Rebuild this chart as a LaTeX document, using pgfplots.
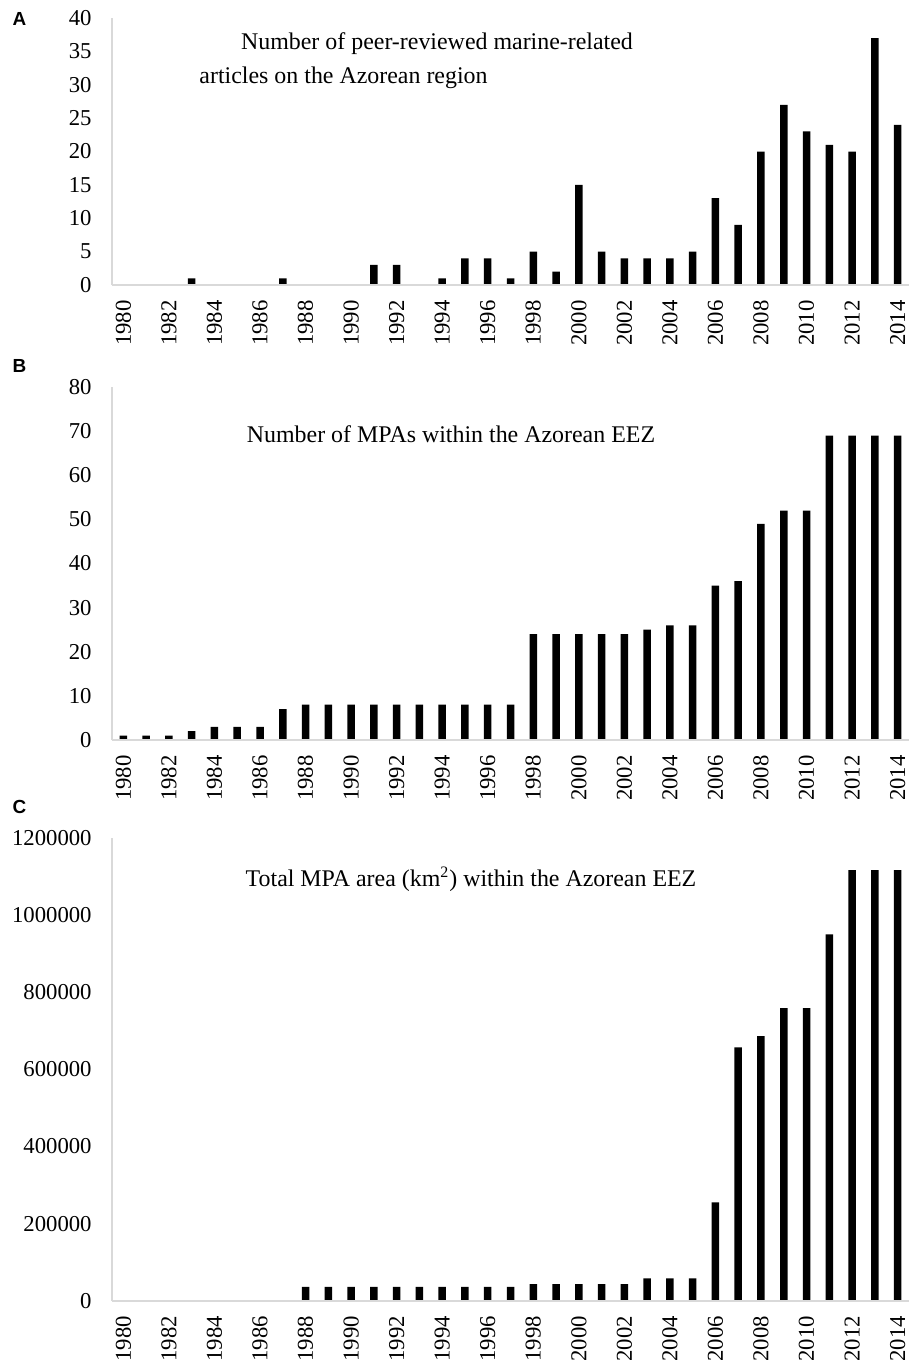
\documentclass[border=0pt]{standalone}
\usepackage{fontspec}
\setmainfont{Liberation Serif}
\newfontfamily\arialfont{Liberation Sans}
\usepackage{pgfplots}
\pgfplotsset{compat=1.18}
\definecolor{axgrey}{HTML}{D9D9D9}
\pgfplotsset{
  panel/.style={
    scale only axis, width=398.5bp,
    xmin=1979.5, xmax=2014.5, ymin=0,
    axis x line*=bottom, axis y line*=left,
    axis line style={draw=axgrey, line width=0.8bp, -},
    axis on top,
    xtick={1980,1982,...,2014},
    major tick length=0pt,
    /pgf/number format/fixed,
    /pgf/number format/precision=0,
    /pgf/number format/1000 sep={},
    /pgf/number format/assume math mode=true,
    scaled y ticks=false,
    scaled x ticks=false,
    tick label style={font=\fontsize{11.4}{13}\selectfont, inner sep=0pt},
    xticklabel style={rotate=90, anchor=east},
    xticklabel shift=7.5bp,
    yticklabel shift=10bp,
    ybar, bar width=3.75bp,
    clip=false,
  }
}
\begin{document}
\begin{tikzpicture}
\path[use as bounding box] (0,0) rectangle (456bp,-682.5bp);
% Panel A
\begin{axis}[panel, height=133.5bp, at={(56bp,-142.5bp)}, anchor=south west,
  ymax=40, ytick={0,5,...,40}]
\addplot[fill=black, draw=none] coordinates {
(1980,0) (1981,0) (1982,0) (1983,1) (1984,0) (1985,0) (1986,0) (1987,1)
(1988,0) (1989,0) (1990,0) (1991,3) (1992,3) (1993,0) (1994,1) (1995,4)
(1996,4) (1997,1) (1998,5) (1999,2) (2000,15) (2001,5) (2002,4) (2003,4)
(2004,4) (2005,5) (2006,13) (2007,9) (2008,20) (2009,27) (2010,23) (2011,21)
(2012,20) (2013,37) (2014,24)};
\end{axis}
% Panel B
\begin{axis}[panel, height=176.5bp, at={(56bp,-370bp)}, anchor=south west,
  ymax=80, ytick={0,10,...,80}]
\addplot[fill=black, draw=none] coordinates {
(1980,1) (1981,1) (1982,1) (1983,2) (1984,3) (1985,3) (1986,3) (1987,7)
(1988,8) (1989,8) (1990,8) (1991,8) (1992,8) (1993,8) (1994,8) (1995,8)
(1996,8) (1997,8) (1998,24) (1999,24) (2000,24) (2001,24) (2002,24) (2003,25)
(2004,26) (2005,26) (2006,35) (2007,36) (2008,49) (2009,52) (2010,52) (2011,69)
(2012,69) (2013,69) (2014,69)};
\end{axis}
% Panel C
\begin{axis}[panel, height=231.35bp, at={(56bp,-650.35bp)}, anchor=south west,
  ymax=1200000, ytick={0,200000,400000,600000,800000,1000000,1200000}]
\addplot[fill=black, draw=none] coordinates {
(1980,0) (1981,0) (1982,0) (1983,0) (1984,0) (1985,0) (1986,0) (1987,0)
(1988,36000) (1989,36000) (1990,36000) (1991,36000) (1992,36000) (1993,36000) (1994,36000) (1995,36000)
(1996,36000) (1997,36000) (1998,43000) (1999,43000) (2000,43000) (2001,43000) (2002,43000) (2003,58000)
(2004,58000) (2005,58000) (2006,255000) (2007,657000) (2008,686000) (2009,759000) (2010,759000) (2011,950000)
(2012,1117000) (2013,1117000) (2014,1117000)};
\end{axis}
% annotations
\begin{scope}[every node/.style={font=\fontsize{12}{14}\selectfont, inner sep=0pt, anchor=base}]
\node at (218.5bp,-24.5bp) {Number of peer-reviewed marine-related};
\node at (171.75bp,-41.5bp) {articles on the Azorean region};
\node at (225.5bp,-221bp) {Number of MPAs within the Azorean EEZ};
\node at (235.5bp,-443bp) {Total MPA area (km\textsuperscript{2}) within the Azorean EEZ};
\end{scope}
\begin{scope}[every node/.style={font=\arialfont\bfseries\fontsize{9.5}{10}\selectfont, inner sep=0pt}]
\node at (9.75bp,-9.5bp) {A};
\node at (9.75bp,-183bp) {B};
\node at (9.75bp,-403.5bp) {C};
\end{scope}
\end{tikzpicture}
\end{document}
